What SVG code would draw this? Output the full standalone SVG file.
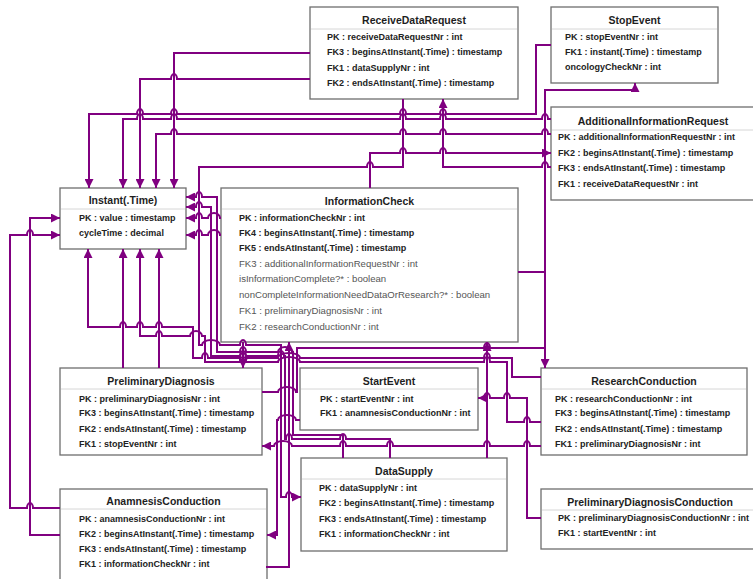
<svg xmlns="http://www.w3.org/2000/svg" width="753" height="579" viewBox="0 0 753 579">
  <style>
    .box { fill: #ffffff; stroke: #6e6e6e; stroke-width: 1.3; }
    .sep { stroke: #d6d6d6; stroke-width: 1; }
    .title { font-family: "Liberation Sans", Arial, sans-serif; font-size: 10.5px; font-weight: bold; fill: #1e1e1e; text-anchor: middle; }
    .row { font-family: "Liberation Sans", Arial, sans-serif; font-size: 9px; font-weight: bold; fill: #222222; }
    .row-light { font-family: "Liberation Sans", Arial, sans-serif; font-size: 9.6px; fill: #555555; }
    .conn path { fill: none; stroke: #800080; stroke-width: 2; marker-end: url(#arr); }
  </style>
  <defs>
    <marker id="arr" viewBox="0 0 10 10" refX="10" refY="5" markerWidth="9" markerHeight="9" markerUnits="userSpaceOnUse" orient="auto">
      <path d="M0,0 L10,5 L0,10 z" fill="#800080"/>
    </marker>
  </defs>
  <rect width="753" height="579" fill="#ffffff"/>

  <!-- entities -->
  <g id="ReceiveDataRequest">
    <rect class="box" x="310" y="7" width="208" height="92"/>
    <line class="sep" x1="311" y1="29" x2="517" y2="29"/>
    <text class="title" x="414" y="24">ReceiveDataRequest</text>
    <text class="row" x="327" y="40">PK : receiveDataRequestNr : int</text>
    <text class="row" x="327" y="55">FK3 : beginsAtInstant(.Time) : timestamp</text>
    <text class="row" x="327" y="71">FK1 : dataSupplyNr : int</text>
    <text class="row" x="327" y="86">FK2 : endsAtInstant(.Time) : timestamp</text>
  </g>

  <g id="StopEvent">
    <rect class="box" x="551" y="7" width="167" height="76"/>
    <line class="sep" x1="552" y1="29" x2="717" y2="29"/>
    <text class="title" x="634.5" y="24">StopEvent</text>
    <text class="row" x="565" y="40">PK : stopEventNr : int</text>
    <text class="row" x="565" y="55">FK1 : instant(.Time) : timestamp</text>
    <text class="row" x="565" y="70">oncologyCheckNr : int</text>
  </g>

  <g id="AdditionalInformationRequest">
    <rect class="box" x="551" y="107" width="205" height="93"/>
    <line class="sep" x1="552" y1="130" x2="756" y2="130"/>
    <text class="title" x="653" y="125">AdditionalInformationRequest</text>
    <text class="row" x="558" y="140">PK : additionalInformationRequestNr : int</text>
    <text class="row" x="558" y="156">FK2 : beginsAtInstant(.Time) : timestamp</text>
    <text class="row" x="558" y="171">FK3 : endsAtInstant(.Time) : timestamp</text>
    <text class="row" x="558" y="187">FK1 : receiveDataRequestNr : int</text>
  </g>

  <g id="Instant">
    <rect class="box" x="60" y="188" width="126" height="61"/>
    <line class="sep" x1="61" y1="209" x2="185" y2="209"/>
    <text class="title" x="123" y="204">Instant(.Time)</text>
    <text class="row" x="79" y="221">PK : value : timestamp</text>
    <text class="row" x="79" y="236">cycleTime : decimal</text>
  </g>

  <g id="InformationCheck">
    <rect class="box" x="221" y="188" width="297" height="154"/>
    <line class="sep" x1="222" y1="209" x2="517" y2="209"/>
    <text class="title" x="369.5" y="205">InformationCheck</text>
    <text class="row" x="239" y="221">PK : informationCheckNr : int</text>
    <text class="row" x="239" y="236">FK4 : beginsAtInstant(.Time) : timestamp</text>
    <text class="row" x="239" y="251">FK5 : endsAtInstant(.Time) : timestamp</text>
    <text class="row-light" x="239" y="267">FK3 : additionalInformationRequestNr : int</text>
    <text class="row-light" x="239" y="282">isInformationComplete?* : boolean</text>
    <text class="row-light" x="239" y="298">nonCompleteInformationNeedDataOrResearch?* : boolean</text>
    <text class="row-light" x="239" y="314">FK1 : preliminaryDiagnosisNr : int</text>
    <text class="row-light" x="239" y="330">FK2 : researchConductionNr : int</text>
  </g>

  <g id="PreliminaryDiagnosis">
    <rect class="box" x="60" y="368" width="202" height="87"/>
    <line class="sep" x1="61" y1="389" x2="261" y2="389"/>
    <text class="title" x="161" y="385">PreliminaryDiagnosis</text>
    <text class="row" x="79" y="402">PK : preliminaryDiagnosisNr : int</text>
    <text class="row" x="79" y="416">FK3 : beginsAtInstant(.Time) : timestamp</text>
    <text class="row" x="79" y="432">FK2 : endsAtInstant(.Time) : timestamp</text>
    <text class="row" x="79" y="447">FK1 : stopEventNr : int</text>
  </g>

  <g id="StartEvent">
    <rect class="box" x="300" y="368" width="178" height="62"/>
    <line class="sep" x1="301" y1="389" x2="477" y2="389"/>
    <text class="title" x="389" y="385">StartEvent</text>
    <text class="row" x="320" y="402">PK : startEventNr : int</text>
    <text class="row" x="320" y="416">FK1 : anamnesisConductionNr : int</text>
  </g>

  <g id="ResearchConduction">
    <rect class="box" x="541" y="368" width="206" height="87"/>
    <line class="sep" x1="542" y1="389" x2="746" y2="389"/>
    <text class="title" x="644" y="385">ResearchConduction</text>
    <text class="row" x="555" y="402">PK : researchConductionNr : int</text>
    <text class="row" x="555" y="416">FK3 : beginsAtInstant(.Time) : timestamp</text>
    <text class="row" x="555" y="432">FK2 : endsAtInstant(.Time) : timestamp</text>
    <text class="row" x="555" y="447">FK1 : preliminaryDiagnosisNr : int</text>
  </g>

  <g id="DataSupply">
    <rect class="box" x="301" y="458" width="206" height="93"/>
    <line class="sep" x1="302" y1="479" x2="506" y2="479"/>
    <text class="title" x="404" y="475">DataSupply</text>
    <text class="row" x="319" y="491">PK : dataSupplyNr : int</text>
    <text class="row" x="319" y="506">FK2 : beginsAtInstant(.Time) : timestamp</text>
    <text class="row" x="319" y="522">FK3 : endsAtInstant(.Time) : timestamp</text>
    <text class="row" x="319" y="537">FK1 : informationCheckNr : int</text>
  </g>

  <g id="AnamnesisConduction">
    <rect class="box" x="60" y="489" width="207" height="96"/>
    <line class="sep" x1="61" y1="509" x2="266" y2="509"/>
    <text class="title" x="163.5" y="505">AnamnesisConduction</text>
    <text class="row" x="79" y="522">PK : anamnesisConductionNr : int</text>
    <text class="row" x="79" y="537">FK2 : beginsAtInstant(.Time) : timestamp</text>
    <text class="row" x="79" y="552">FK3 : endsAtInstant(.Time) : timestamp</text>
    <text class="row" x="79" y="567">FK1 : informationCheckNr : int</text>
  </g>

  <g id="PreliminaryDiagnosisConduction">
    <rect class="box" x="541" y="489" width="215" height="60"/>
    <line class="sep" x1="542" y1="510" x2="756" y2="510"/>
    <text class="title" x="650" y="506">PreliminaryDiagnosisConduction</text>
    <text class="row" x="558" y="521">PK : preliminaryDiagnosisConductionNr : int</text>
    <text class="row" x="558" y="536">FK1 : startEventNr : int</text>
  </g>

  <!-- foreign-key connectors, arrowhead on the referenced table; bumps mark crossings -->
  <g id="connectors" class="conn">
    <path d="M310,53 H174 V188"/>
    <path d="M310,79 H177 a3,5 0 0 0 -6,0 H140 V188"/>
    <path d="M551,45 H536 V114 H446 a3,5 0 0 0 -6,0 H406 a3,5 0 0 0 -6,0 H177 a3,5 0 0 0 -6,0 H143 a3,5 0 0 0 -6,0 H89 V188"/>
    <path d="M551,119 H548 a3,5 0 0 0 -6,0 H446 a3,5 0 0 0 -6,0 H406 a3,5 0 0 0 -6,0 H177 a3,5 0 0 0 -6,0 H143 a3,5 0 0 0 -6,0 H123 V188"/>
    <path d="M551,134 H548 a3,5 0 0 0 -6,0 H446 a3,5 0 0 0 -6,0 H406 a3,5 0 0 0 -6,0 H177 a3,5 0 0 0 -6,0 H156 V188"/>
    <path d="M370,188 V153 H400 a3,5 0 0 1 6,0 H440 a3,5 0 0 1 6,0 H551"/>
    <path d="M551,167 H548 a3,5 0 0 0 -6,0 H443 V99"/>
    <path d="M403,99 V167 H373 a3,5 0 0 0 -6,0 H199 V345 H202 a9,5 0 0 1 18,0 H240 a3,5 0 0 1 6,0 H281 V497 H286 a3,5 0 0 1 6,0 H301"/>
    <path d="M221,218 H220 a6,5 0 0 0 -12,0 H202 a3,5 0 0 0 -6,0 H186"/>
    <path d="M221,235 H220 a6,5 0 0 0 -12,0 H202 a3,5 0 0 0 -6,0 H186"/>
    <path d="M343,458 V435 H293 V352 H292 a7,5 0 0 0 -14,0 H246 a3,5 0 0 0 -6,0 H217 V197 H202 a3,5 0 0 0 -6,0 H186"/>
    <path d="M390,458 V439 H346 a3,5 0 0 0 -6,0 H292 a3,5 0 0 0 -6,0 H285 V356 H284 a3,5 0 0 0 -6,0 H246 a3,5 0 0 0 -6,0 H211 V207 H202 a3,5 0 0 0 -6,0 H186"/>
    <path d="M541,377 H512 V358 H490 a3,5 0 0 0 -6,0 H300 a11,5 0 0 0 -22,0 H246 a3,5 0 0 0 -6,0 H208 a3,5 0 0 0 -6,0 H193 V327 H162 a3,5 0 0 0 -6,0 H143 a3,5 0 0 0 -6,0 H126 a3,5 0 0 0 -6,0 H88 V249"/>
    <path d="M541,422 H530 a3,5 0 0 0 -6,0 H507 V362 H490 a3,5 0 0 0 -6,0 H300 a11,5 0 0 0 -22,0 H246 a3,5 0 0 0 -6,0 H205 V336 H202 a6,5 0 0 0 -12,0 H162 a3,5 0 0 0 -6,0 H140 V249"/>
    <path d="M262,392 H278 a9,5 0 0 1 18,0 H297 V348 H484 a3,5 0 0 1 6,0 H545 V90 H635 V83"/>
    <path d="M518,272 H545 V368"/>
    <path d="M243,342 V368"/>
    <path d="M487,458 V342"/>
    <path d="M266,567 H289 V342"/>
    <path d="M300,420 H296 a9,5 0 0 0 -18,0 H277 V535 H267"/>
    <path d="M541,446 H530 a3,5 0 0 0 -6,0 H490 a3,5 0 0 0 -6,0 H393 a3,5 0 0 0 -6,0 H346 a3,5 0 0 0 -6,0 H292 a9,5 0 0 0 -18,0 H262"/>
    <path d="M541,518 H527 V398 H510 a3,5 0 0 0 -6,0 H490 a3,5 0 0 0 -6,0 H478"/>
    <path d="M123,368 V249"/>
    <path d="M159,368 V249"/>
    <path d="M60,508 H33 a3,5 0 0 0 -6,0 H10 V235 H27 a3,5 0 0 1 6,0 H60"/>
    <path d="M60,535 H30 V218 H60"/>
  </g>
</svg>
